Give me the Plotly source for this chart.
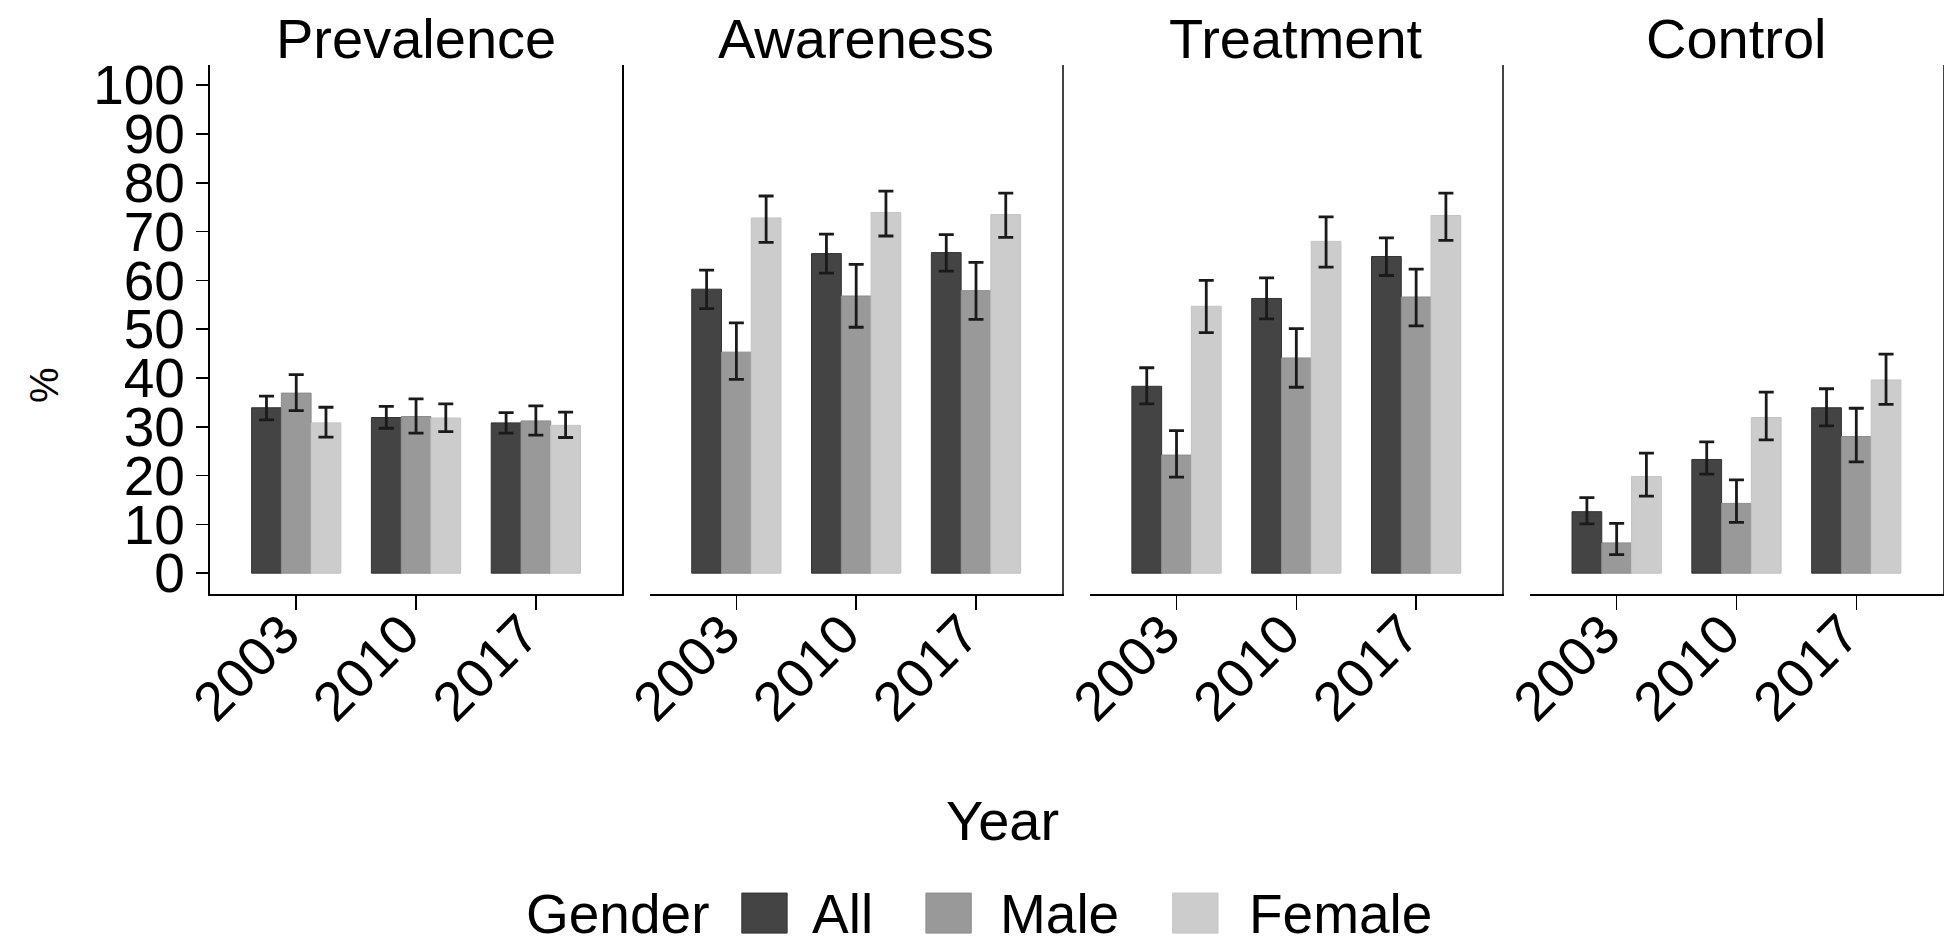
import plotly.graph_objects as go

years = ["2003", "2010", "2017"]
panels = ["Prevalence", "Awareness", "Treatment", "Control"]
genders = ["All", "Male", "Female"]
gender_colors = ["#444444", "#999999", "#cccccc"]
gender_edges = ["#333333", "#8c8c8c", "#c4c4c4"]

# values (%), lower and upper CI per panel / gender / year
prevalence_all = [33.9, 31.9, 30.8]
prevalence_all_lo = [31.4, 29.7, 28.7]
prevalence_all_hi = [36.3, 34.2, 32.9]
prevalence_male = [36.9, 32.1, 31.2]
prevalence_male_lo = [33.3, 28.7, 28.3]
prevalence_male_hi = [40.7, 35.7, 34.3]
prevalence_female = [30.8, 31.8, 30.3]
prevalence_female_lo = [27.9, 29.0, 27.8]
prevalence_female_hi = [34.0, 34.7, 33.0]

awareness_all = [58.2, 65.5, 65.7]
awareness_all_lo = [54.2, 61.5, 61.9]
awareness_all_hi = [62.1, 69.5, 69.4]
awareness_male = [45.3, 56.8, 57.9]
awareness_male_lo = [39.7, 50.4, 52.0]
awareness_male_hi = [51.3, 63.3, 63.7]
awareness_female = [72.8, 73.9, 73.5]
awareness_female_lo = [67.8, 69.1, 68.8]
awareness_female_hi = [77.3, 78.3, 77.9]

treatment_all = [38.3, 56.3, 64.9]
treatment_all_lo = [34.7, 52.1, 61.0]
treatment_all_hi = [42.1, 60.5, 68.7]
treatment_male = [24.2, 44.1, 56.6]
treatment_male_lo = [19.7, 38.1, 50.7]
treatment_male_hi = [29.2, 50.1, 62.3]
treatment_female = [54.7, 68.0, 73.3]
treatment_female_lo = [49.3, 62.7, 68.2]
treatment_female_hi = [60.0, 73.0, 77.9]

control_all = [12.6, 23.3, 33.9]
control_all_lo = [10.1, 20.3, 30.2]
control_all_hi = [15.5, 26.9, 37.8]
control_male = [6.2, 14.3, 28.0]
control_male_lo = [3.8, 10.4, 22.8]
control_male_hi = [10.2, 19.1, 33.8]
control_female = [19.8, 31.9, 39.6]
control_female_lo = [15.8, 27.3, 34.6]
control_female_hi = [24.6, 37.1, 44.9]

y_ticks = [0, 10, 20, 30, 40, 50, 60, 70, 80, 90, 100]

data = {
    "Prevalence": [(prevalence_all, prevalence_all_lo, prevalence_all_hi),
                   (prevalence_male, prevalence_male_lo, prevalence_male_hi),
                   (prevalence_female, prevalence_female_lo, prevalence_female_hi)],
    "Awareness": [(awareness_all, awareness_all_lo, awareness_all_hi),
                  (awareness_male, awareness_male_lo, awareness_male_hi),
                  (awareness_female, awareness_female_lo, awareness_female_hi)],
    "Treatment": [(treatment_all, treatment_all_lo, treatment_all_hi),
                  (treatment_male, treatment_male_lo, treatment_male_hi),
                  (treatment_female, treatment_female_lo, treatment_female_hi)],
    "Control": [(control_all, control_all_lo, control_all_hi),
                (control_male, control_male_lo, control_male_hi),
                (control_female, control_female_lo, control_female_hi)],
}

W, H = 1946, 949
FONT = "Liberation Sans, Arial, Helvetica, sans-serif"

fig = go.Figure()

panel_left = [183.7, 630.5, 1077.3, 1524.1]
panel_w = 418.4
y_bot_px, y_top_px = 596.5, 55.5

for i, p in enumerate(panels):
    xa = "x" if i == 0 else f"x{i+1}"
    ya = "y" if i == 0 else f"y{i+1}"
    for g, (vals, lo, hi) in enumerate(data[p]):
        fig.add_trace(go.Bar(
            x=years, y=vals, name=genders[g], xaxis=xa, yaxis=ya,
            marker=dict(color=gender_colors[g], line=dict(color=gender_edges[g], width=1)),
            error_y=dict(type="data", symmetric=False,
                         array=[h - v for h, v in zip(hi, vals)],
                         arrayminus=[v - l for v, l in zip(vals, lo)],
                         color="#1a1a1a", thickness=2.8, width=7.5),
            showlegend=False, hoverinfo="skip",
        ))

layout = dict(
    width=W, height=H, autosize=False,
    margin=dict(l=0, r=0, t=0, b=0),
    paper_bgcolor="white", plot_bgcolor="white",
    barmode="group", bargap=0.255, bargroupgap=0,
    font=dict(family=FONT, color="black", size=56),
    showlegend=False,
)

for i, p in enumerate(panels):
    xk = "xaxis" if i == 0 else f"xaxis{i+1}"
    yk = "yaxis" if i == 0 else f"yaxis{i+1}"
    x0 = panel_left[i] / W
    x1 = (panel_left[i] + panel_w) / W
    layout[xk] = dict(
        domain=[x0, x1], anchor="y" if i == 0 else f"y{i+1}",
        type="category", range=[-0.72, 2.72],
        showline=True, linecolor="black", linewidth=2,
        ticks="outside", ticklen=14, tickwidth=1.5, tickcolor="black",
        tickangle=-45, tickfont=dict(size=55, family=FONT),
        ticklabelstandoff=-30, ticklabelshift=-13,
        showgrid=False, zeroline=False, fixedrange=True,
    )
    ydict = dict(
        domain=[1 - y_bot_px / H, 1 - y_top_px / H],
        anchor="x" if i == 0 else f"x{i+1}",
        range=[-4.2, 104.1], showgrid=False, zeroline=False, fixedrange=True,
        showline=True, linecolor="#444444", linewidth=1.3,
    )
    if i == 0:
        ydict.update(side="left", mirror=True, linecolor="black", linewidth=2,
                     tickmode="array", tickvals=y_ticks,
                     ticktext=[str(t) for t in y_ticks],
                     ticks="outside", ticklen=12, tickwidth=1.5, tickcolor="black",
                     tickfont=dict(size=55, family=FONT))
    else:
        ydict.update(side="right", showticklabels=False, ticks="")
    layout[yk] = ydict

annotations = []
for i, p in enumerate(panels):
    annotations.append(dict(
        text=p, xref="paper", yref="paper",
        x=(panel_left[i] + panel_w / 2) / W, y=1 - 28 / H,
        xanchor="center", yanchor="middle", showarrow=False,
        font=dict(size=56, family=FONT, color="black")))
annotations.append(dict(text="Year", xref="paper", yref="paper",
                        x=988.6 / W, y=1 - 829 / H, xanchor="center", yanchor="middle",
                        showarrow=False, font=dict(size=56, family=FONT)))
annotations.append(dict(text="%", xref="paper", yref="paper",
                        x=15 / W, y=1 - 383 / H, xanchor="center", yanchor="middle",
                        textangle=-90, showarrow=False, font=dict(size=40, family=FONT)))

# manual legend
leg_y = 924
annotations.append(dict(text="Gender", xref="paper", yref="paper",
                        x=692 / W, y=1 - leg_y / H, xanchor="right", yanchor="middle",
                        showarrow=False, font=dict(size=55, family=FONT)))
swatch_x = [723.6, 910.5, 1161.0]
label_x = [792.5, 984.0, 1236.0]
shapes = []
for g in range(3):
    shapes.append(dict(type="rect", xref="paper", yref="paper",
                       x0=swatch_x[g] / W, x1=(swatch_x[g] + 46) / W,
                       y0=1 - 944 / H, y1=1 - 903 / H,
                       fillcolor=gender_colors[g], line=dict(color=gender_edges[g], width=1)))
    annotations.append(dict(text=genders[g], xref="paper", yref="paper",
                            x=label_x[g] / W, y=1 - leg_y / H, xanchor="left", yanchor="middle",
                            showarrow=False, font=dict(size=55, family=FONT)))

layout["annotations"] = annotations
layout["shapes"] = shapes
fig.update_layout(**layout)
fig.write_html(
    "out.html",
    config={"displayModeBar": False, "staticPlot": True},
    post_script="document.body.style.margin='0';document.body.style.overflow='hidden';"
                "document.documentElement.style.overflow='hidden';",
)
